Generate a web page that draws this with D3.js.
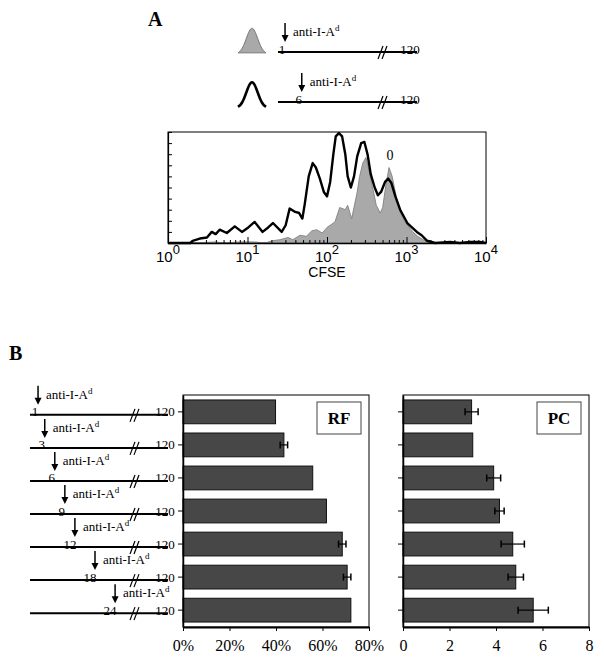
<!DOCTYPE html>
<html>
<head>
<meta charset="utf-8">
<script src="https://cdn.jsdelivr.net/npm/d3@7"></script>
<style>
  body { margin: 0; background: #fff; }
  svg { display: block; }
  .serif { font-family: "Liberation Serif", "Times New Roman", serif; }
  .sans { font-family: "Liberation Sans", Arial, sans-serif; }
</style>
</head>
<body>
<div id="chart"></div>
<script>
// Panel A: CFSE histograms, x in log10(CFSE), y in % of max count
const day6Log = [0, 0.28, 0.31, 0.40, 0.49, 0.55, 0.60, 0.65, 0.74, 0.84, 0.93, 1.01, 1.09, 1.19, 1.26, 1.32, 1.43, 1.48,
  1.53, 1.60, 1.65, 1.69, 1.72, 1.77, 1.82, 1.86, 1.91, 1.96, 2.00, 2.04, 2.08, 2.11, 2.15, 2.19, 2.23, 2.26, 2.30,
  2.34, 2.38, 2.43, 2.47, 2.51, 2.55, 2.60, 2.64, 2.68, 2.73, 2.77, 2.81, 2.86, 2.92, 3.01, 3.13, 3.19, 3.26, 3.36,
  3.55, 3.67, 3.80, 3.92, 4.0];
const day6Count = [0, 0, 2, 4, 5, 10, 8, 12, 9, 15, 10, 14, 19, 10, 14, 18, 10, 16,
  31, 28, 27, 22, 35, 60, 72, 68, 58, 46, 42, 55, 80, 96, 99, 96, 80, 60, 50,
  60, 78, 90, 91, 80, 62, 50, 43, 46, 55, 58, 54, 42, 30, 18, 10, 7, 2, 0,
  1, 0, 1, 1, 0];
const day1Log = [0, 0.40, 0.59, 0.72, 0.91, 1.09, 1.22, 1.31, 1.41, 1.51, 1.57, 1.66, 1.74, 1.81, 1.87, 1.94, 2.00,
  2.04, 2.10, 2.16, 2.23, 2.26, 2.31, 2.38, 2.41, 2.45, 2.49, 2.53, 2.58, 2.62, 2.67, 2.70, 2.74, 2.78, 2.82, 2.87,
  2.92, 2.98, 3.08, 3.14, 3.21, 3.30, 4.0];
const day1Count = [0, 0, 1, 0, 1, 1, 0, 2, 3, 5, 3, 7, 6, 11, 12, 9, 14,
  16, 19, 32, 30, 34, 22, 46, 60, 72, 77, 65, 48, 34, 27, 32, 52, 68, 60, 42,
  28, 19, 10, 6, 3, 0, 0];
const decades = [0, 1, 2, 3, 4];
const legendDays = [1, 6];

// Panel B: treatment day vs. RF (%) and PC
const treatDays = [1, 3, 6, 9, 12, 18, 24];
const rfValues = [39.8, 43.4, 55.8, 61.7, 68.5, 70.6, 72.2];
const rfErrors = [0, 1.6, 0, 0, 1.6, 1.6, 0];
const pcValues = [2.95, 3.0, 3.9, 4.15, 4.72, 4.85, 5.6];
const pcErrors = [0.28, 0, 0.3, 0.2, 0.5, 0.33, 0.65];
const rfTicks = [0, 20, 40, 60, 80];
const pcTicks = [0, 2, 4, 6, 8];

const svg = d3.select('#chart').append('svg').attr('width', 604).attr('height', 671);

// ---------- Panel A ----------
svg.append('text').attr('class', 'serif').attr('x', 148).attr('y', 26)
  .attr('font-size', 20).attr('font-weight', 'bold').text('A');

const x = d3.scaleLinear().domain([0, 4]).range([168, 486]);
const y = d3.scaleLinear().domain([0, 100]).range([243, 132]);

svg.append('rect').attr('x', 168).attr('y', 132).attr('width', 318).attr('height', 111)
  .attr('fill', 'none').attr('stroke', '#000').attr('stroke-width', 1);

const area = d3.area().x((d, i) => x(day1Log[i])).y0(y(0)).y1(d => y(d));
svg.append('path').datum(day1Count).attr('d', area)
  .attr('fill', '#a9a9a9').attr('stroke', '#777').attr('stroke-width', 0.8);

const line = d3.line().x((d, i) => x(day6Log[i])).y(d => y(d));
svg.append('path').datum(day6Count).attr('d', line)
  .attr('fill', 'none').attr('stroke', '#000').attr('stroke-width', 2.4).attr('stroke-linejoin', 'round');

// log minor ticks
const minor = [];
decades.slice(0, 4).forEach(d => { for (let k = 2; k < 10; k++) minor.push(d + Math.log10(k)); });
svg.append('g').attr('transform', 'translate(0,243)')
  .call(d3.axisBottom(x).tickValues(minor).tickSize(-3).tickFormat(''))
  .call(g => g.select('.domain').remove());
svg.append('g').attr('transform', 'translate(0,243)')
  .call(d3.axisBottom(x).tickValues(decades).tickSize(-6).tickSizeOuter(0).tickFormat(''))
  .call(g => g.select('.domain').attr('stroke-width', 1.5));
svg.append('g').attr('transform', 'translate(168,0)')
  .call(d3.axisLeft(y).ticks(10).tickSize(-4).tickSizeOuter(0).tickFormat(''))
  .call(g => g.select('.domain').attr('stroke-width', 1.2));

const xl = svg.append('g').attr('class', 'sans').attr('font-size', 15).attr('fill', '#000');
decades.forEach(d => {
  const t = xl.append('text').attr('x', x(d)).attr('y', 262).attr('text-anchor', 'middle');
  t.append('tspan').text('10');
  t.append('tspan').attr('dy', -8).attr('font-size', 13).text(d);
});
svg.append('text').attr('class', 'sans').attr('x', 327).attr('y', 277)
  .attr('text-anchor', 'middle').attr('font-size', 14).attr('fill', '#000').text('CFSE');
svg.append('text').attr('class', 'serif').attr('x', 390).attr('y', 160)
  .attr('text-anchor', 'middle').attr('font-size', 14).attr('fill', '#000').text('0');

// legend glyphs
const bell = d3.line().curve(d3.curveBasis);
function bellPoints(x0, yb, w, h) {
  return d3.range(0, 1.0001, 0.05).map(t => [x0 + t * w, yb - h * Math.exp(-Math.pow((t - 0.5) / 0.2, 2) / 2)]);
}
svg.append('path').attr('d', bell(bellPoints(238, 54, 28, 26)) + 'Z')
  .attr('fill', '#a9a9a9').attr('stroke', '#777').attr('stroke-width', 1);
svg.append('path').attr('d', bell(bellPoints(238, 108, 28, 26)))
  .attr('fill', 'none').attr('stroke', '#000').attr('stroke-width', 2.6);

// treatment timeline helper
function timeline(g, dayScale, ly, day, x0, x1, xBreak, x120, numOffset) {
  const ax = dayScale(day);
  g.append('line').attr('x1', x0).attr('x2', x1).attr('y1', ly).attr('y2', ly)
    .attr('stroke', '#000').attr('stroke-width', 2);
  [0, 4].forEach(o => g.append('line')
    .attr('x1', xBreak - 3 + o).attr('y1', ly + 7).attr('x2', xBreak + 2 + o).attr('y2', ly - 6)
    .attr('stroke', '#000').attr('stroke-width', 1.2));
  g.append('text').attr('class', 'serif').attr('x', x120).attr('y', ly + 1.5).attr('fill', '#000')
    .attr('text-anchor', 'middle').attr('font-size', 13).text('120');
  g.append('text').attr('class', 'serif').attr('x', ax + numOffset).attr('y', ly + 1.5).attr('fill', '#000')
    .attr('text-anchor', 'middle').attr('font-size', 13).text(day);
  g.append('line').attr('x1', ax).attr('x2', ax).attr('y1', ly - 29).attr('y2', ly - 16)
    .attr('stroke', '#000').attr('stroke-width', 1.5);
  g.append('path').attr('d', `M${ax - 3.5},${ly - 17}L${ax + 3.5},${ly - 17}L${ax},${ly - 10}Z`).attr('fill', '#000');
  const t = g.append('text').attr('class', 'serif').attr('x', ax + 8).attr('y', ly - 16)
    .attr('font-size', 13).attr('fill', '#000');
  t.append('tspan').text('anti-I-A');
  t.append('tspan').attr('dy', -5).attr('font-size', 9).text('d');
}

const dayA = d3.scaleLinear().domain([0, 30]).range([281.7, 382]);
const gA = svg.append('g');
legendDays.forEach((d, i) => timeline(gA, dayA, 52 + i * 50, d, 278, 417, 381, 410, -3));

// ---------- Panel B ----------
svg.append('text').attr('class', 'serif').attr('x', 9).attr('y', 360)
  .attr('font-size', 20).attr('font-weight', 'bold').text('B');

const band = d3.scaleBand().domain(treatDays).range([395, 627]).paddingInner(0.28).paddingOuter(0.15);
const dayB = d3.scaleLinear().domain([0, 30]).range([34.7, 135.2]);
const gB = svg.append('g');
treatDays.forEach(d => timeline(gB, dayB, band(d) + band.bandwidth() / 2 + 3, d, 30, 168, 133, 165, d > 9 ? -5 : -3));

function barPanel(x0, values, errors, ticks, domainMax, fmt, label) {
  const xs = d3.scaleLinear().domain([0, domainMax]).range([x0, x0 + 186]);
  const g = svg.append('g');
  g.append('rect').attr('x', x0).attr('y', 395).attr('width', 186).attr('height', 232)
    .attr('fill', 'none').attr('stroke', '#000').attr('stroke-width', 1);
  g.selectAll('rect.bar').data(treatDays).join('rect').attr('class', 'bar')
    .attr('x', xs(0)).attr('y', d => band(d))
    .attr('width', (d, i) => xs(values[i]) - xs(0)).attr('height', band.bandwidth())
    .attr('fill', '#474747').attr('stroke', '#111').attr('stroke-width', 1);
  treatDays.forEach((d, i) => {
    if (!errors[i]) return;
    const cy = band(d) + band.bandwidth() / 2;
    const lo = xs(values[i] - errors[i]), hi = xs(values[i] + errors[i]);
    g.append('line').attr('x1', lo).attr('x2', hi).attr('y1', cy).attr('y2', cy).attr('stroke', '#000').attr('stroke-width', 1.2);
    [lo, hi].forEach(v => g.append('line').attr('x1', v).attr('x2', v).attr('y1', cy - 3.5).attr('y2', cy + 3.5)
      .attr('stroke', '#000').attr('stroke-width', 1.5));
  });
  g.append('g').attr('transform', 'translate(0,627)')
    .call(d3.axisBottom(xs).tickValues(ticks).tickSize(4).tickSizeOuter(0).tickFormat(fmt))
    .call(a => a.select('.domain').attr('stroke-width', 2))
    .call(a => a.selectAll('text').attr('class', 'serif').attr('font-size', 16).attr('fill', '#000').attr('dy', '1.05em'));
  g.append('g').attr('transform', `translate(${x0},0)`)
    .call(d3.axisLeft(band).tickSize(5).tickSizeOuter(0).tickFormat(''))
    .call(a => a.select('.domain').attr('stroke-width', 1.5));
  const bx = x0 + 134;
  g.append('rect').attr('x', bx).attr('y', 402).attr('width', 44).attr('height', 32)
    .attr('fill', '#fff').attr('stroke', '#444').attr('stroke-width', 1);
  g.append('text').attr('class', 'serif').attr('x', bx + 22).attr('y', 424)
    .attr('text-anchor', 'middle').attr('font-size', 17).attr('font-weight', 'bold').text(label);
}

barPanel(183, rfValues, rfErrors, rfTicks, 80, d => d + '%', 'RF');
barPanel(403, pcValues, pcErrors, pcTicks, 8, d => d, 'PC');
</script>
</body>
</html>
